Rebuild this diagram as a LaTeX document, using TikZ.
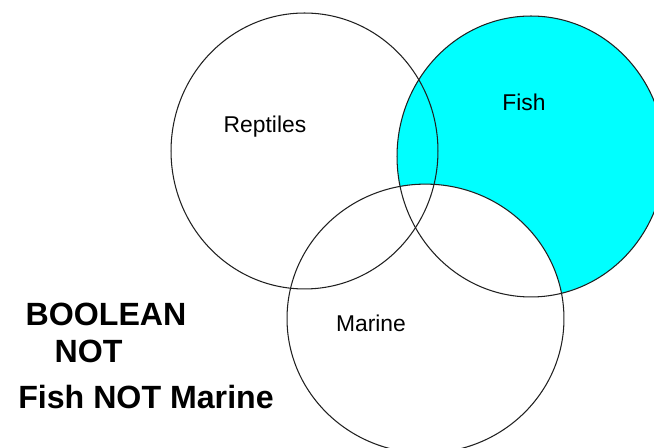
\documentclass[tikz,border=0pt]{standalone}
\usepackage{fontspec}
\setmainfont{Liberation Sans}
\usepackage{tikz}
\usetikzlibrary{positioning}
\definecolor{FishFill}{HTML}{00FFFF}
\definecolor{RimLine}{HTML}{202020}

\tikzset{
    setlabel/.style={anchor=base, inner sep=0pt, font=\fontsize{13}{13}\selectfont},
    titlelabel/.style={anchor=base, inner sep=0pt, font=\fontsize{18.3}{18.3}\selectfont\bfseries},
    rim/.style={draw=RimLine, line width=0.6pt}
}

\begin{document}
\begin{tikzpicture}[x=0.02cm, y=-0.02cm]
    \clip (0,0) rectangle (654,448);
    \fill[white] (0,0) rectangle (654,448);

    \fill[FishFill] (531,156.5) ellipse [x radius=2.68cm, y radius=2.81cm];
    \fill[white] (425.5,318.6) ellipse [x radius=2.77cm, y radius=2.69cm];

    \draw[rim] (304.5,151) ellipse [x radius=2.67cm, y radius=2.76cm];
    \draw[rim] (531,156.5) ellipse [x radius=2.68cm, y radius=2.81cm];
    \draw[rim] (425.5,318.6) ellipse [x radius=2.77cm, y radius=2.69cm];

    \node[setlabel] (reptiles) at (265,132.7) {Reptiles};
    \node[setlabel] (fish) at (524,111) {Fish};
    \node[setlabel] (marine) at (371,331.7) {Marine};

    \node[titlelabel] (boolean) at (106,326) {BOOLEAN};
    \node[titlelabel] (notword) at (88.5,363) {NOT};
    \node[titlelabel] (query) at (146,408.3) {Fish NOT Marine};
\end{tikzpicture}
\end{document}
